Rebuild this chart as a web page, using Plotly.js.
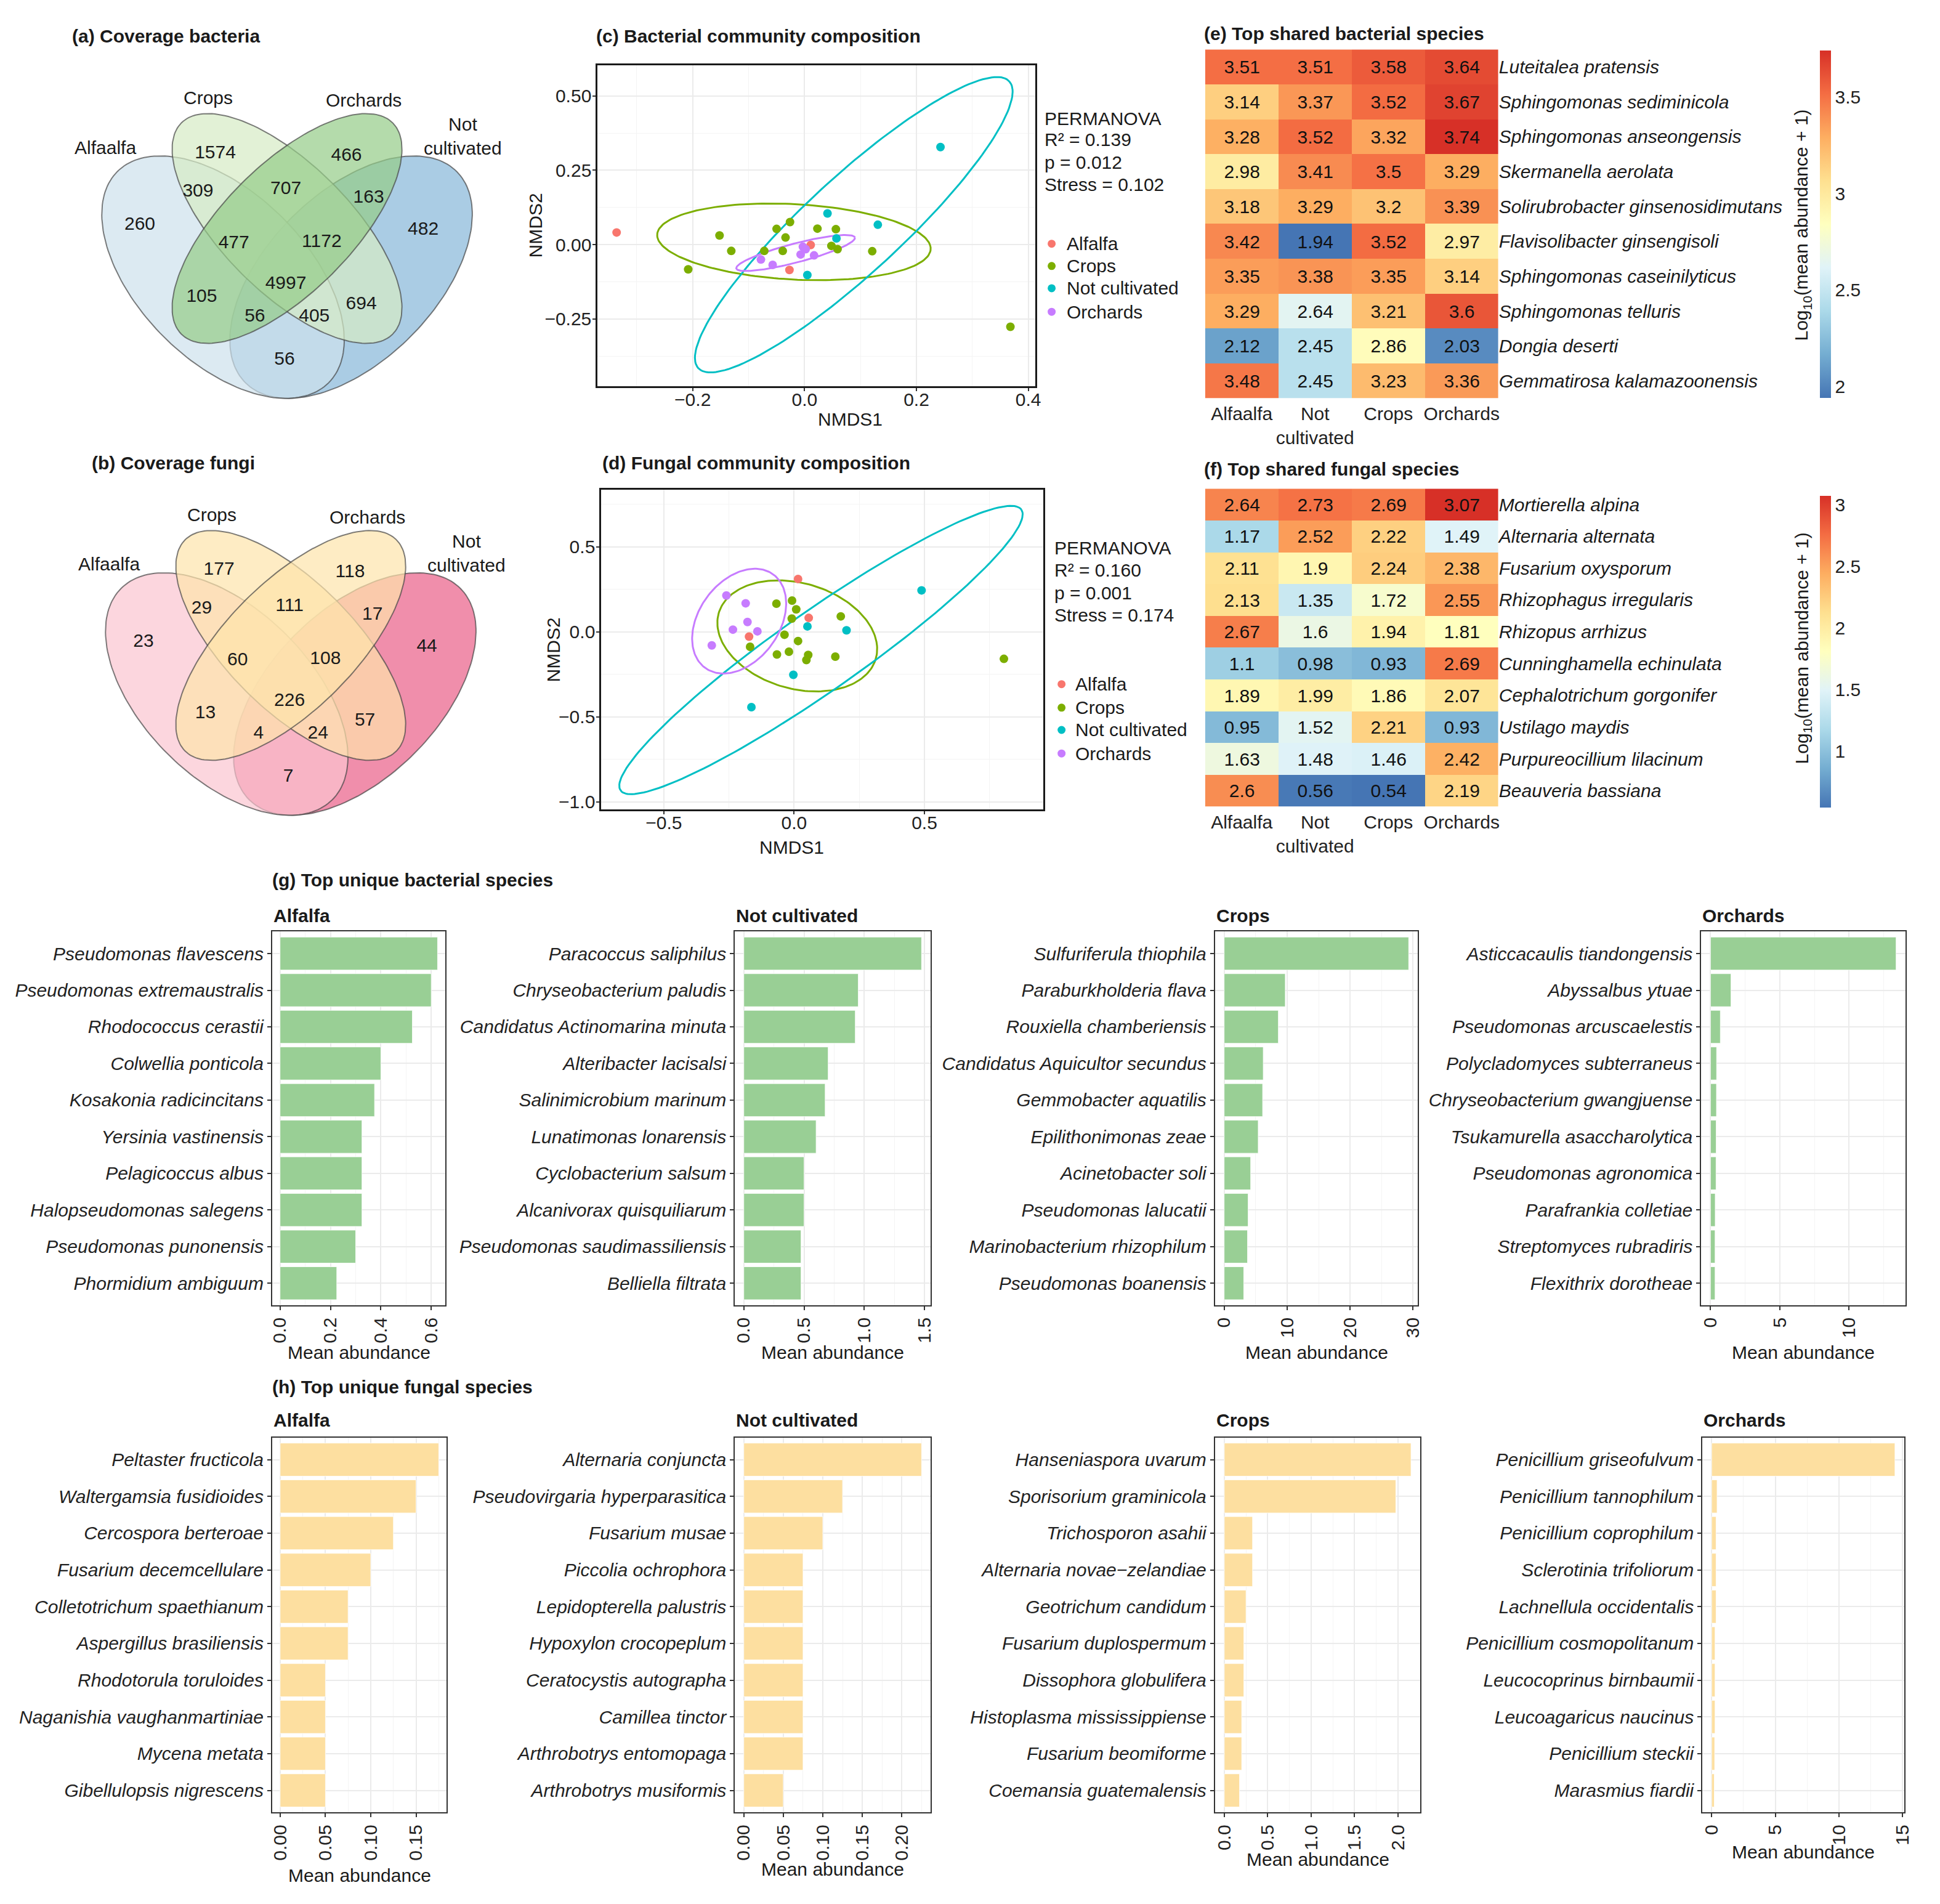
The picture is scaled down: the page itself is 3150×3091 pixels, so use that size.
<!DOCTYPE html>
<html><head><meta charset="utf-8">
<script src="https://cdn.plot.ly/plotly-3.0.1.min.js"></script>
<style>html,body{margin:0;padding:0;background:#fff}#chart{width:3150px;height:3091px}</style>
</head><body><div id="chart"></div>
<script>
// ================= DATA =================
// Venn region order: A only, B only, C only, D only, AB, BC, CD, AC, BD, AD, ABC, BCD, ACD, ABD, ABCD
// A = Alfaalfa, B = Crops, C = Orchards, D = Not cultivated
const vennSetLabels = ['Alfaalfa', 'Crops', 'Orchards', 'Not<br>cultivated'];
const bacteriaVenn = [260, 1574, 466, 482, 309, 707, 163, 105, 694, 56, 477, 1172, 56, 405, 4997];
const fungiVenn = [23, 177, 118, 44, 29, 111, 17, 13, 57, 7, 60, 108, 4, 24, 226];

const groups = ['Alfalfa', 'Crops', 'Not cultivated', 'Orchards'];
// NMDS bacteria (c)
const bactAlfalfaX = [-0.336, 0.011, -0.027];
const bactAlfalfaY = [0.041, -0.001, -0.085];
const bactCropsX = [-0.152, -0.131, -0.208, -0.050, -0.026, -0.034, -0.072, -0.039, 0.023, 0.056, 0.048, 0.059, 0.121, 0.368];
const bactCropsY = [0.031, -0.021, -0.083, 0.053, 0.076, 0.024, -0.021, -0.021, 0.054, 0.052, -0.004, -0.015, -0.022, -0.276];
const bactNotCultX = [0.041, 0.131, 0.057, 0.005, 0.243];
const bactNotCultY = [0.105, 0.067, 0.021, -0.102, 0.328];
const bactOrchardsX = [-0.003, 0.002, -0.007, 0.017, -0.078, -0.057];
const bactOrchardsY = [-0.007, -0.015, -0.033, -0.036, -0.050, -0.068];
// NMDS fungi (d)
const fungAlfalfaX = [0.015, 0.056, -0.173];
const fungAlfalfaY = [0.311, 0.082, -0.028];
const fungCropsX = [-0.068, -0.008, 0.008, -0.009, 0.179, -0.037, 0.015, -0.169, -0.066, -0.020, 0.054, 0.047, 0.158, 0.805];
const fungCropsY = [0.166, 0.184, 0.132, 0.078, 0.091, -0.017, -0.054, -0.088, -0.133, -0.117, -0.136, -0.166, -0.146, -0.159];
const fungNotCultX = [0.489, 0.051, 0.201, -0.003, -0.164];
const fungNotCultY = [0.244, 0.032, 0.009, -0.253, -0.443];
const fungOrchardsX = [-0.260, -0.186, -0.179, -0.235, -0.141, -0.316];
const fungOrchardsY = [0.214, 0.168, 0.058, 0.013, 0.003, -0.080];
// 95% ellipses: centre, two conjugate half-axes (data units)
const bactEllipseCrops = [[-0.019, 0.0095], [0.244, -0.015], [-0.015, 0.128]];
const bactEllipseNotCult = [[0.088, 0.067], [0.278, 0.482], [0.058, -0.119]];
const bactEllipseOrchards = [[-0.016, -0.028], [0.106, 0.052], [0.004, -0.031]];
const fungEllipseCrops = [[0.012, -0.024], [0.304, -0.035], [-0.04, 0.325]];
const fungEllipseNotCult = [[0.103, -0.107], [0.769, 0.826], [0.088, -0.193]];
const fungEllipseOrchards = [[-0.211, 0.063], [0.035, 0.305], [0.177, 0.045]];

const bactStats = ['PERMANOVA', 'R² = 0.139', 'p = 0.012', 'Stress = 0.102'];
const fungStats = ['PERMANOVA', 'R² = 0.160', 'p = 0.001', 'Stress = 0.174'];

// Heatmaps
const heatColumns = ['Alfaalfa', 'Not<br>cultivated', 'Crops', 'Orchards'];
const bactSharedSpecies = ['Luteitalea pratensis', 'Sphingomonas sediminicola', 'Sphingomonas anseongensis', 'Skermanella aerolata', 'Solirubrobacter ginsenosidimutans', 'Flavisolibacter ginsengisoli', 'Sphingomonas caseinilyticus', 'Sphingomonas telluris', 'Dongia deserti', 'Gemmatirosa kalamazoonensis'];
const bactSharedValues = [[3.51, 3.51, 3.58, 3.64], [3.14, 3.37, 3.52, 3.67], [3.28, 3.52, 3.32, 3.74], [2.98, 3.41, 3.5, 3.29], [3.18, 3.29, 3.2, 3.39], [3.42, 1.94, 3.52, 2.97], [3.35, 3.38, 3.35, 3.14], [3.29, 2.64, 3.21, 3.6], [2.12, 2.45, 2.86, 2.03], [3.48, 2.45, 3.23, 3.36]];
const fungSharedSpecies = ['Mortierella alpina', 'Alternaria alternata', 'Fusarium oxysporum', 'Rhizophagus irregularis', 'Rhizopus arrhizus', 'Cunninghamella echinulata', 'Cephalotrichum gorgonifer', 'Ustilago maydis', 'Purpureocillium lilacinum', 'Beauveria bassiana'];
const fungSharedValues = [[2.64, 2.73, 2.69, 3.07], [1.17, 2.52, 2.22, 1.49], [2.11, 1.9, 2.24, 2.38], [2.13, 1.35, 1.72, 2.55], [2.67, 1.6, 1.94, 1.81], [1.1, 0.98, 0.93, 2.69], [1.89, 1.99, 1.86, 2.07], [0.95, 1.52, 2.21, 0.93], [1.63, 1.48, 1.46, 2.42], [2.6, 0.56, 0.54, 2.19]];
const bactColorbarTicks = [2, 2.5, 3, 3.5];
const fungColorbarTicks = [1, 1.5, 2, 2.5, 3];

// Unique bacterial species (g)
const gAlfalfaNames = ['Pseudomonas flavescens', 'Pseudomonas extremaustralis', 'Rhodococcus cerastii', 'Colwellia ponticola', 'Kosakonia radicincitans', 'Yersinia vastinensis', 'Pelagicoccus albus', 'Halopseudomonas salegens', 'Pseudomonas punonensis', 'Phormidium ambiguum'];
const gAlfalfaValues = [0.625, 0.6, 0.525, 0.4, 0.375, 0.325, 0.325, 0.325, 0.3, 0.225];
const gNotCultNames = ['Paracoccus saliphilus', 'Chryseobacterium paludis', 'Candidatus Actinomarina minuta', 'Alteribacter lacisalsi', 'Salinimicrobium marinum', 'Lunatimonas lonarensis', 'Cyclobacterium salsum', 'Alcanivorax quisquiliarum', 'Pseudomonas saudimassiliensis', 'Belliella filtrata'];
const gNotCultValues = [1.475, 0.95, 0.925, 0.7, 0.675, 0.6, 0.5, 0.5, 0.475, 0.475];
const gCropsNames = ['Sulfuriferula thiophila', 'Paraburkholderia flava', 'Rouxiella chamberiensis', 'Candidatus Aquicultor secundus', 'Gemmobacter aquatilis', 'Epilithonimonas zeae', 'Acinetobacter soli', 'Pseudomonas lalucatii', 'Marinobacterium rhizophilum', 'Pseudomonas boanensis'];
const gCropsValues = [29.3, 9.7, 8.6, 6.2, 6.1, 5.4, 4.2, 3.8, 3.7, 3.1];
const gOrchardsNames = ['Asticcacaulis tiandongensis', 'Abyssalbus ytuae', 'Pseudomonas arcuscaelestis', 'Polycladomyces subterraneus', 'Chryseobacterium gwangjuense', 'Tsukamurella asaccharolytica', 'Pseudomonas agronomica', 'Parafrankia colletiae', 'Streptomyces rubradiris', 'Flexithrix dorotheae'];
const gOrchardsValues = [13.4, 1.48, 0.71, 0.44, 0.43, 0.41, 0.40, 0.34, 0.33, 0.33];
// Unique fungal species (h)
const hAlfalfaNames = ['Peltaster fructicola', 'Waltergamsia fusidioides', 'Cercospora berteroae', 'Fusarium decemcellulare', 'Colletotrichum spaethianum', 'Aspergillus brasiliensis', 'Rhodotorula toruloides', 'Naganishia vaughanmartiniae', 'Mycena metata', 'Gibellulopsis nigrescens'];
const hAlfalfaValues = [0.175, 0.15, 0.125, 0.1, 0.075, 0.075, 0.05, 0.05, 0.05, 0.05];
const hNotCultNames = ['Alternaria conjuncta', 'Pseudovirgaria hyperparasitica', 'Fusarium musae', 'Piccolia ochrophora', 'Lepidopterella palustris', 'Hypoxylon crocopeplum', 'Ceratocystis autographa', 'Camillea tinctor', 'Arthrobotrys entomopaga', 'Arthrobotrys musiformis'];
const hNotCultValues = [0.225, 0.125, 0.1, 0.075, 0.075, 0.075, 0.075, 0.075, 0.075, 0.05];
const hCropsNames = ['Hanseniaspora uvarum', 'Sporisorium graminicola', 'Trichosporon asahii', 'Alternaria novae\u2212zelandiae', 'Geotrichum candidum', 'Fusarium duplospermum', 'Dissophora globulifera', 'Histoplasma mississippiense', 'Fusarium beomiforme', 'Coemansia guatemalensis'];
const hCropsValues = [2.15, 1.975, 0.325, 0.325, 0.25, 0.225, 0.225, 0.2, 0.2, 0.175];
const hOrchardsNames = ['Penicillium griseofulvum', 'Penicillium tannophilum', 'Penicillium coprophilum', 'Sclerotinia trifoliorum', 'Lachnellula occidentalis', 'Penicillium cosmopolitanum', 'Leucocoprinus birnbaumii', 'Leucoagaricus naucinus', 'Penicillium steckii', 'Marasmius fiardii'];
const hOrchardsValues = [14.4, 0.43, 0.35, 0.35, 0.35, 0.27, 0.27, 0.27, 0.24, 0.21];

// ================= LAYOUT HELPERS =================
const FONT = 'Liberation Sans, Arial, Helvetica, sans-serif';
const TXT = '#1a1a1a';
const TICK = '#222222';
const SW = 1568, SH = 1539; // layout grid units (figure = 3150 x 3091 px)
const px = v => v / SW, py = v => 1 - v / SH;
const dom = (x0, x1, y0, y1) => ({ x: [px(x0), px(x1)], y: [py(y1), py(y0)] });
const FS = 30;

const data = [];
const annotations = [];
const shapes = [];
const layout = {
  width: 3150, height: 3091, margin: { l: 0, r: 0, t: 0, b: 0 },
  paper_bgcolor: '#ffffff', plot_bgcolor: 'rgba(0,0,0,0)',
  font: { family: FONT, size: FS, color: TXT },
  showlegend: false, annotations, shapes
};
function ann(text, x, y, o) {
  return Object.assign({ text, x: px(x), y: py(y), xref: 'paper', yref: 'paper', showarrow: false,
    xanchor: 'left', yanchor: 'middle', font: { family: FONT, size: FS, color: TXT } }, o || {});
}

// ================= VENN (a), (b) =================
// geometry in local layout units (cx, cy, semi-major, semi-minor, angle deg; y down)
const vennGeom = [[180.25, 224, 120.75, 68, 45], [232, 184.7, 120.75, 51.75, 45], [232, 184.7, 120.75, 51.75, -45], [283.75, 224, 120.75, 68, -45]];
const vennDrawOrder = [3, 0, 1, 2];
const vennLabelPos = [[113, 182], [174, 124], [280, 126], [342, 186], [160, 155], [231, 153], [298, 160], [163, 240], [292, 246], [230, 291], [189, 197], [260, 196], [206, 256], [254, 256], [231, 230]];
const vennSetPos = [[85, 119], [168, 79], [294, 81], [374, 110]];
const vennFillsBact = ['rgba(205,225,236,0.7)', 'rgba(214,235,196,0.7)', 'rgba(148,204,136,0.7)', 'rgba(134,182,216,0.7)'];
const vennFillsFung = ['rgba(251,196,208,0.7)', 'rgba(254,228,171,0.7)', 'rgba(254,228,171,0.7)', 'rgba(234,94,136,0.7)'];

function ellipsePath(g) {
  const [cx, cy, a, b, deg] = g, r = deg * Math.PI / 180, xs = [], ys = [];
  for (let i = 0; i <= 180; i++) {
    const t = 2 * Math.PI * i / 180, ca = a * Math.cos(t), sb = b * Math.sin(t);
    xs.push(cx + ca * Math.cos(r) - sb * Math.sin(r));
    ys.push(cy + ca * Math.sin(r) + sb * Math.cos(r));
  }
  return { xs, ys };
}
function addVenn(counts, fills, xa, ya, dx, dy) {
  vennDrawOrder.forEach(i => {
    const p = ellipsePath(vennGeom[i]);
    data.push({ type: 'scatter', mode: 'lines', x: p.xs, y: p.ys, fill: 'toself', fillcolor: fills[i],
      line: { color: 'rgba(70,70,70,0.7)', width: 2 }, xaxis: xa, yaxis: ya, showlegend: false, hoverinfo: 'skip' });
  });
  data.push({ type: 'scatter', mode: 'text', x: vennLabelPos.map(p => p[0]), y: vennLabelPos.map(p => p[1]),
    text: counts.map(String), textposition: 'middle center', textfont: { family: FONT, size: FS, color: TXT },
    xaxis: xa, yaxis: ya, showlegend: false, hoverinfo: 'skip' });
  vennSetLabels.forEach((t, i) => annotations.push(ann(t, vennSetPos[i][0] + dx, vennSetPos[i][1] + dy, { xanchor: 'center' })));
}
function hiddenAx(domain, range, anchor) {
  return { domain, range, anchor, visible: false, showgrid: false, zeroline: false, fixedrange: true };
}
layout.xaxis = hiddenAx([px(20), px(430)], [20, 430], 'y');
layout.yaxis = hiddenAx([py(340), py(50)], [340, 50], 'x');
layout.xaxis2 = hiddenAx([px(23), px(433)], [20, 430], 'y2');
layout.yaxis2 = hiddenAx([py(677), py(387)], [340, 50], 'x2');
addVenn(bacteriaVenn, vennFillsBact, 'x', 'y', 0, 0);
addVenn(fungiVenn, vennFillsFung, 'x2', 'y2', 3, 337);

// ================= NMDS (c), (d) =================
const groupColors = ['#F8766D', '#7CAE00', '#00BFC4', '#C77CFF'];
function conjEllipse(e) {
  const [c, u, v] = e, xs = [], ys = [];
  for (let i = 0; i <= 180; i++) {
    const t = 2 * Math.PI * i / 180;
    xs.push(c[0] + u[0] * Math.cos(t) + v[0] * Math.sin(t));
    ys.push(c[1] + u[1] * Math.cos(t) + v[1] * Math.sin(t));
  }
  return { xs, ys };
}
function sciAx(domain, range, dtick, fmt, anchor, isY) {
  return { domain, range, anchor, dtick, tick0: 0, tickformat: fmt, showline: true, mirror: true,
    linecolor: '#1a1a1a', linewidth: 3, ticks: 'outside', ticklen: 5, tickwidth: 2, tickcolor: '#333',
    ticklabelstandoff: isY ? -4 : -12,
    showgrid: true, gridcolor: '#EBEBEB', gridwidth: 2,
    minor: { dtick: dtick / 2, tick0: 0, showgrid: true, gridcolor: '#F4F4F4', gridwidth: 1, ticks: '' },
    zeroline: false, tickfont: { family: FONT, size: FS, color: TICK } };
}
function addNMDS(pts, ells, xa, ya) {
  const ellColors = [groupColors[1], groupColors[2], groupColors[3]];
  ells.forEach((e, k) => {
    const p = conjEllipse(e);
    data.push({ type: 'scatter', mode: 'lines', x: p.xs, y: p.ys, line: { color: ellColors[k], width: 3 },
      xaxis: xa, yaxis: ya, showlegend: false, hoverinfo: 'skip' });
  });
  pts.forEach((p, k) => {
    data.push({ type: 'scatter', mode: 'markers', name: groups[k], x: p[0], y: p[1],
      marker: { color: groupColors[k], size: 14 }, xaxis: xa, yaxis: ya, showlegend: false });
  });
}
const dC = dom(483, 837, 53, 312), dD = dom(486, 843, 396, 654);
layout.xaxis3 = sciAx(dC.x, [-0.370, 0.413], 0.2, '.1f', 'y3', false);
layout.yaxis3 = sciAx(dC.y, [-0.475, 0.602], 0.25, '.2f', 'x3', true);
layout.xaxis4 = sciAx(dD.x, [-0.740, 0.955], 0.5, '.1f', 'y4', false);
layout.yaxis4 = sciAx(dD.y, [-1.043, 0.835], 0.5, '.1f', 'x4', true);
addNMDS([[bactAlfalfaX, bactAlfalfaY], [bactCropsX, bactCropsY], [bactNotCultX, bactNotCultY], [bactOrchardsX, bactOrchardsY]],
  [bactEllipseCrops, bactEllipseNotCult, bactEllipseOrchards], 'x3', 'y3');
addNMDS([[fungAlfalfaX, fungAlfalfaY], [fungCropsX, fungCropsY], [fungNotCultX, fungNotCultY], [fungOrchardsX, fungOrchardsY]],
  [fungEllipseCrops, fungEllipseNotCult, fungEllipseOrchards], 'x4', 'y4');
// legend keys (ggplot-style legend)
function addLegend(kx, tx, ys) {
  groups.forEach((g, k) => {
    shapes.push({ type: 'circle', xref: 'paper', yref: 'paper', xsizemode: 'pixel', ysizemode: 'pixel',
      xanchor: px(kx), yanchor: py(ys[k]), x0: -6.5, x1: 6.5, y0: -6.5, y1: 6.5,
      fillcolor: groupColors[k], line: { width: 0 } });
    annotations.push(ann(g, tx, ys[k]));
  });
}
addLegend(850, 861, [197, 215, 233, 252]);
addLegend(858, 868, [553, 572, 590, 609]);
bactStats.forEach((t, i) => annotations.push(ann(t, 843, [96, 113, 131, 149][i])));
fungStats.forEach((t, i) => annotations.push(ann(t, 851, [443, 461, 479, 497][i])));
annotations.push(ann('NMDS1', 687, 339, { xanchor: 'center' }));
annotations.push(ann('NMDS2', 433, 182, { xanchor: 'center', textangle: -90 }));
annotations.push(ann('NMDS1', 640, 685, { xanchor: 'center' }));
annotations.push(ann('NMDS2', 447, 525, { xanchor: 'center', textangle: -90 }));

// ================= HEATMAPS (e), (f) =================
const rdylbu = [[0, '#4575b4'], [0.125, '#74add1'], [0.25, '#abd9e9'], [0.375, '#e0f3f8'], [0.5, '#ffffbf'], [0.625, '#fee090'], [0.75, '#fdae61'], [0.875, '#f46d43'], [1, '#d73027']];
function addHeat(species, values, ticks, xa, ya, d, cbTop, cbBottom) {
  const flat = values.flat();
  data.push({ type: 'heatmap', x: heatColumns, y: species, z: values, zmin: Math.min(...flat), zmax: Math.max(...flat),
    colorscale: rdylbu, texttemplate: '%{z}', textfont: { family: FONT, size: FS, color: '#111' },
    xaxis: xa, yaxis: ya, hoverinfo: 'skip', showscale: true,
    colorbar: { x: px(1471), xanchor: 'left', xref: 'paper', y: py(cbTop), yanchor: 'top', yref: 'paper',
      len: (cbBottom - cbTop) / SH, lenmode: 'fraction', thickness: 18, thicknessmode: 'pixels',
      outlinewidth: 0, xpad: 0, ypad: 0, ticks: '', tickvals: ticks, ticktext: ticks.map(String),
      tickfont: { family: FONT, size: FS, color: TICK } } });
  layout['xaxis' + xa.slice(1)] = { domain: d.x, anchor: ya, type: 'category', showgrid: false, zeroline: false,
    showline: false, ticks: '', ticklabelstandoff: 4, tickfont: { family: FONT, size: FS, color: TICK } };
  layout['yaxis' + ya.slice(1)] = { domain: d.y, anchor: xa, type: 'category', autorange: 'reversed', side: 'right',
    showgrid: false, zeroline: false, showline: false, ticks: '', tickfont: { family: FONT, size: FS, color: TXT, style: 'italic' } };
}
addHeat(bactSharedSpecies, bactSharedValues, bactColorbarTicks, 'x5', 'y5', dom(974, 1211, 40, 322), 41, 322);
addHeat(fungSharedSpecies, fungSharedValues, fungColorbarTicks, 'x6', 'y6', dom(974, 1211, 395, 652), 401, 653);
annotations.push(ann('Log<sub>10</sub>(mean abundance + 1)', 1457, 182, { xanchor: 'center', textangle: -90 }));
annotations.push(ann('Log<sub>10</sub>(mean abundance + 1)', 1457, 524, { xanchor: 'center', textangle: -90 }));

// ================= BAR PANELS (g), (h) =================
const GREEN = '#99CF95', YELLOW = '#FDDFA0';
const barPanels = [
  { names: gAlfalfaNames, vals: gAlfalfaValues, color: GREEN, d: dom(220, 360, 753, 1055), dtick: 0.2, fmt: '.1f', title: 'Alfalfa', ty: 740, my: 1093 },
  { names: gNotCultNames, vals: gNotCultValues, color: GREEN, d: dom(594, 752, 753, 1055), dtick: 0.5, fmt: '.1f', title: 'Not cultivated', ty: 740, my: 1093 },
  { names: gCropsNames, vals: gCropsValues, color: GREEN, d: dom(982, 1146, 753, 1055), dtick: 10, fmt: 'd', title: 'Crops', ty: 740, my: 1093 },
  { names: gOrchardsNames, vals: gOrchardsValues, color: GREEN, d: dom(1375, 1540, 753, 1055), dtick: 5, fmt: 'd', title: 'Orchards', ty: 740, my: 1093 },
  { names: hAlfalfaNames, vals: hAlfalfaValues, color: YELLOW, d: dom(220, 361, 1162, 1465), dtick: 0.05, fmt: '.2f', title: 'Alfalfa', ty: 1148, my: 1516 },
  { names: hNotCultNames, vals: hNotCultValues, color: YELLOW, d: dom(594, 752, 1162, 1465), dtick: 0.05, fmt: '.2f', title: 'Not cultivated', ty: 1148, my: 1511 },
  { names: hCropsNames, vals: hCropsValues, color: YELLOW, d: dom(982, 1148, 1162, 1465), dtick: 0.5, fmt: '.1f', title: 'Crops', ty: 1148, my: 1503 },
  { names: hOrchardsNames, vals: hOrchardsValues, color: YELLOW, d: dom(1376, 1539, 1162, 1465), dtick: 5, fmt: 'd', title: 'Orchards', ty: 1148, my: 1497 }
];
barPanels.forEach((p, i) => {
  const n = 7 + i, xa = 'x' + n, ya = 'y' + n, mx = Math.max(...p.vals);
  data.push({ type: 'bar', orientation: 'h', x: p.vals, y: p.names, width: 0.9,
    marker: { color: p.color, line: { color: 'rgba(255,255,255,0.8)', width: 1 } },
    xaxis: xa, yaxis: ya, showlegend: false, hoverinfo: 'skip' });
  layout['xaxis' + n] = { domain: p.d.x, anchor: ya, range: [-0.05 * mx, 1.05 * mx], dtick: p.dtick, tick0: 0, tickformat: p.fmt,
    tickangle: -90, showline: true, mirror: true, linecolor: '#333', linewidth: 2, ticks: 'outside', ticklen: 6, tickwidth: 2,
    tickcolor: '#333', showgrid: true, gridcolor: '#EBEBEB', gridwidth: 2,
    minor: { dtick: p.dtick / 2, tick0: 0, showgrid: true, gridcolor: '#F4F4F4', gridwidth: 1, ticks: '' },
    zeroline: false, tickfont: { family: FONT, size: FS, color: TICK } };
  layout['yaxis' + n] = { domain: p.d.y, anchor: xa, type: 'category', categoryorder: 'array', categoryarray: p.names,
    range: [p.names.length - 0.4, -0.6], showline: true, mirror: true, linecolor: '#333', linewidth: 2,
    ticks: 'outside', ticklen: 6, tickwidth: 2, tickcolor: '#333', showgrid: true, gridcolor: '#EBEBEB', gridwidth: 2,
    zeroline: false, tickfont: { family: FONT, size: FS, color: TICK, style: 'italic' } };
  const left = p.d.x[0] * SW, right = p.d.x[1] * SW;
  annotations.push(ann('<b>' + p.title + '</b>', left, p.ty));
  annotations.push(ann('Mean abundance', (left + right) / 2, p.my, { xanchor: 'center' }));
});

// ================= PANEL TITLES =================
[['(a) Coverage bacteria', 57, 29], ['(b) Coverage fungi', 73, 374], ['(c) Bacterial community composition', 481, 29],
 ['(d) Fungal community composition', 486, 374], ['(e) Top shared bacterial species', 972, 27], ['(f) Top shared fungal species', 972, 379],
 ['(g) Top unique bacterial species', 219, 711], ['(h) Top unique fungal species', 219, 1121]]
  .forEach(t => annotations.push(ann('<b>' + t[0] + '</b>', t[1], t[2])));

Plotly.newPlot('chart', data, layout, { staticPlot: true, displayModeBar: false });
</script>
</body></html>
